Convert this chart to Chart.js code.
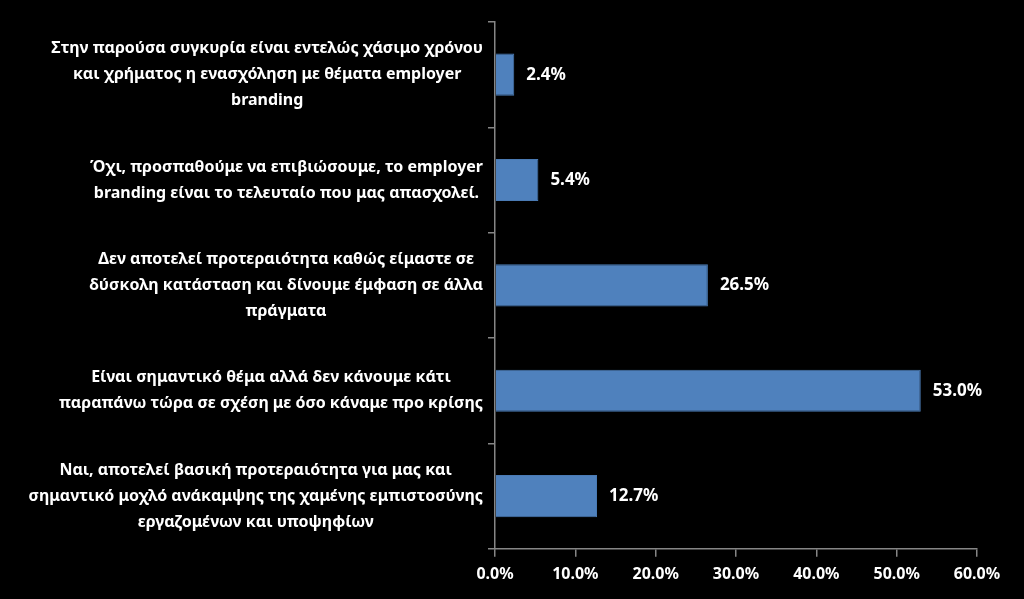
<!DOCTYPE html>
<html>
<head>
<meta charset="utf-8">
<script src="https://cdn.jsdelivr.net/npm/chart.js@4"></script>
<style>
  html, body { margin: 0; padding: 0; background: #000; }
  #wrap { width: 1024px; height: 599px; }
</style>
</head>
<body>
<div id="wrap"><canvas id="chart"></canvas></div>
<script>
// categories (top to bottom), each split into lines as in the picture
const categories = [
    ['Στην παρούσα συγκυρία είναι εντελώς χάσιμο χρόνου', 'και χρήματος η ενασχόληση με θέματα employer', 'branding'],
    ['Όχι, προσπαθούμε να επιβιώσουμε, το employer', 'branding είναι το τελευταίο που μας απασχολεί.'],
    ['Δεν αποτελεί προτεραιότητα καθώς είμαστε σε', 'δύσκολη κατάσταση και δίνουμε έμφαση σε άλλα', 'πράγματα'],
    ['Είναι σημαντικό θέμα αλλά δεν κάνουμε κάτι', 'παραπάνω τώρα σε σχέση με όσο κάναμε προ κρίσης'],
    ['Ναι, αποτελεί βασική προτεραιότητα για μας και', 'σημαντικό μοχλό ανάκαμψης της χαμένης εμπιστοσύνης', 'εργαζομένων και υποψηφίων']
];
const values = [2.4, 5.4, 26.5, 53.0, 12.7];
const xTicks = [0, 10, 20, 30, 40, 50, 60];

const FONT = '"Noto Sans", "DejaVu Sans", sans-serif';
const axisColor = '#868686';

// draws the wrapped category labels and the value labels
const labelPlugin = {
    id: 'labels',
    afterDraw(chart) {
        const ctx = chart.ctx;
        const yScale = chart.scales.y;
        const meta = chart.getDatasetMeta(0);
        ctx.save();
        ctx.fillStyle = '#ffffff';
        ctx.font = 'bold 16px ' + FONT;
        ctx.textBaseline = 'middle';

        const right = yScale.right - 12;
        const lineH = 26;
        categories.forEach((lines, i) => {
            const yMid = yScale.getPixelForTick(i);
            let widest = 0;
            lines.forEach(l => { widest = Math.max(widest, ctx.measureText(l).width); });
            const cx = right - widest / 2;
            ctx.textAlign = 'center';
            lines.forEach((l, j) => {
                const y = yMid + (j - (lines.length - 1) / 2) * lineH;
                ctx.fillText(l, cx, y);
            });
        });

        ctx.font = 'bold 17px ' + FONT;
        ctx.textAlign = 'left';
        meta.data.forEach((bar, i) => {
            ctx.fillText(values[i].toFixed(1) + '%', bar.x + 12, bar.y);
        });
        ctx.restore();
    }
};

new Chart(document.getElementById('chart'), {
    type: 'bar',
    data: {
        labels: categories.map(c => c.join(' ')),
        datasets: [{
            data: values,
            backgroundColor: '#4f81bd',
            borderColor: '#4a7ab3',
            borderWidth: 1,
            barPercentage: 0.8,
            categoryPercentage: 0.5
        }]
    },
    options: {
        indexAxis: 'y',
        responsive: true,
        maintainAspectRatio: false,
        animation: false,
        layout: { padding: { top: 22, right: 47, bottom: 7, left: 0 } },
        plugins: {
            legend: { display: false },
            tooltip: { enabled: false }
        },
        scales: {
            x: {
                min: 0,
                max: 60,
                afterBuildTicks: s => { s.ticks = xTicks.map(v => ({ value: v })); },
                grid: {
                    drawOnChartArea: false,
                    color: axisColor,
                    tickLength: 8,
                    lineWidth: 1.5
                },
                border: { color: axisColor, width: 1.5 },
                ticks: {
                    color: '#ffffff',
                    padding: 8,
                    font: { family: FONT, size: 16, weight: 'bold' },
                    callback: v => v.toFixed(1) + '%'
                }
            },
            y: {
                afterFit: s => { s.width = 495; },
                grid: {
                    drawOnChartArea: false,
                    color: axisColor,
                    tickLength: 7,
                    lineWidth: 1.5
                },
                border: { color: axisColor, width: 1.5 },
                ticks: {
                    callback: () => ''
                }
            }
        }
    },
    plugins: [labelPlugin]
});
</script>
</body>
</html>
